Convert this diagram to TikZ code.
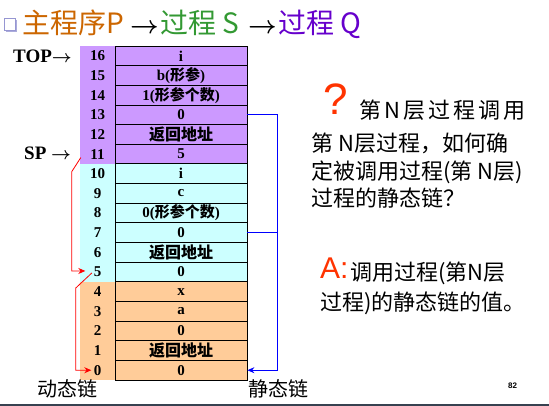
\documentclass[tikz,border=0pt]{standalone}
\usepackage{amsmath}
\usepackage{fontspec}
\setmainfont{Liberation Serif}
\newfontfamily\cjk{Noto Sans CJK SC}
\newfontfamily\sans{Liberation Sans}
\usetikzlibrary{arrows.meta,calc}
\definecolor{lav}{RGB}{204,153,255}
\definecolor{aqua}{RGB}{204,255,255}
\definecolor{peach}{RGB}{255,204,153}
\definecolor{ttlorange}{RGB}{204,102,0}
\definecolor{ttlgreen}{RGB}{51,153,51}
\definecolor{ttlpurple}{RGB}{102,0,204}
\definecolor{qred}{RGB}{255,51,0}
\definecolor{rulegray}{RGB}{55,65,80}
\definecolor{bulletedge}{RGB}{150,150,210}
\newcommand{\gap}{\hspace{3pt}}
\begin{document}
\begin{tikzpicture}[x=1pt,y=-1pt,
  cell/.style={draw=black, line width=0.8pt, minimum width=132pt, minimum height=19.65pt,
    inner sep=0pt, font=\fontsize{15}{15}\selectfont\bfseries},
  idx/.style={minimum width=35pt, minimum height=19.9pt, inner sep=0pt,
    font=\fontsize{15}{15}\selectfont\bfseries},
  txt/.style={anchor=base west, inner sep=0pt},
  body/.style={txt, font=\cjk\fontsize{22}{22}\selectfont},
  schain/.style={draw=blue, line width=1pt},
  dchain/.style={draw=red, line width=0.8pt},
  tip/.style={-{Stealth[length=7pt,width=6pt]}}
]
\useasboundingbox (0,0) rectangle (549,406);
\fill[white] (0,0) rectangle (549,406);

% title line
\fill[bulletedge!80] (6,20) rectangle (17,32);
\draw[bulletedge, fill=white, line width=0.8pt] (4.5,18.5) rectangle (15,30);
\node[txt, font=\cjk\fontsize{28}{28}\selectfont, text=ttlorange] (t1) at (22,34) {主程序P};
\node[txt, font=\fontsize{26}{26}\selectfont] (a1) at (130,34) {$\boldsymbol{\rightarrow}$};
\node[txt, font=\cjk\fontsize{28}{28}\selectfont, text=ttlgreen] (t2) at (160,34) {过程 S};
\node[txt, font=\fontsize{26}{26}\selectfont] (a2) at (248,34) {$\boldsymbol{\rightarrow}$};
\node[txt, font=\cjk\fontsize{28}{28}\selectfont, text=ttlpurple] (t3) at (278,34) {过程 Q};

% stack: index column and cells
\foreach \r/\t/\c in {16/i/lav, 15/{b({\cjk 形参})}/lav, 14/{1({\cjk 形参个数})}/lav,
    13/0/lav, 12/{{\cjk\fontsize{16}{16}\selectfont 返回地址}}/lav, 11/5/lav,
    10/i/aqua, 9/c/aqua, 8/{0({\cjk 形参个数})}/aqua, 7/0/aqua,
    6/{{\cjk\fontsize{16}{16}\selectfont 返回地址}}/aqua, 5/0/aqua,
    4/x/peach, 3/a/peach, 2/0/peach, 1/{{\cjk\fontsize{16}{16}\selectfont 返回地址}}/peach, 0/0/peach} {
  \node[idx, fill=\c] (n\r) at (97.5, {46+(16.5-\r)*19.65}) {\r};
  \node[cell, fill=\c] (c\r) at (181, {46+(16.5-\r)*19.65}) {\t};
}

% pointers
\node[txt, font=\fontsize{19}{19}\selectfont\bfseries] (top) at (13,62.5) {TOP$\boldsymbol{\rightarrow}$};
\node[txt, font=\fontsize{19}{19}\selectfont\bfseries] (sp) at (24,159.5) {SP $\boldsymbol{\rightarrow}$};

% static chain
\coordinate (sc) at (277,0);
\draw[schain, tip] (c13.east) -- (c13.east -| sc) -- (c0.east -| sc) -- (c0.east);
\draw[schain] (c7.east) -- (c7.east -| sc);

% dynamic chain
\draw[dchain, tip] ($(n11.west)+(1,3.5)$) -- ++(-9,14) |- ($(n5.west)+(5.5,-1)$);
\draw[dchain, tip] ($(n5.west)+(12,1)$) -- ++(-16,15) |- ($(n0.west)+(11.5,0)$);

% chain captions
\node[txt, font=\cjk\fontsize{20}{20}\selectfont] (dl) at (37.5,396) {动态链};
\node[txt, font=\cjk\fontsize{20}{20}\selectfont] (sl) at (248,396) {静态链};

% question
\node[txt, font=\sans\fontsize{44}{44}\selectfont, text=qred] (q) at (323,115) {?};
\node[body] (q1) at (359,118.5) {第\gap N\gap 层\gap 过\gap 程\gap 调\gap 用};
\node[body] (q2) at (311,152) {第 N层过程，如何确};
\node[body] (q3) at (311,180) {定被调用过程(第 N层)};
\node[body] (q4) at (311,207) {过程的静态链？};

% answer
\node[txt, font=\sans\fontsize{30}{30}\selectfont, text=qred] (ans) at (320,278.3) {A:};
\node[body] (a1l) at (350,280) {调用过程(第N层};
\node[body] (a2l) at (320,310) {过程)的静态链的值。};

% page number and footer rule
\node[txt, font=\sans\bfseries\fontsize{8}{8}\selectfont] (pg) at (508,388.5) {82};
\fill[rulegray] (0,403.5) rectangle (549,406);
\end{tikzpicture}
\end{document}
